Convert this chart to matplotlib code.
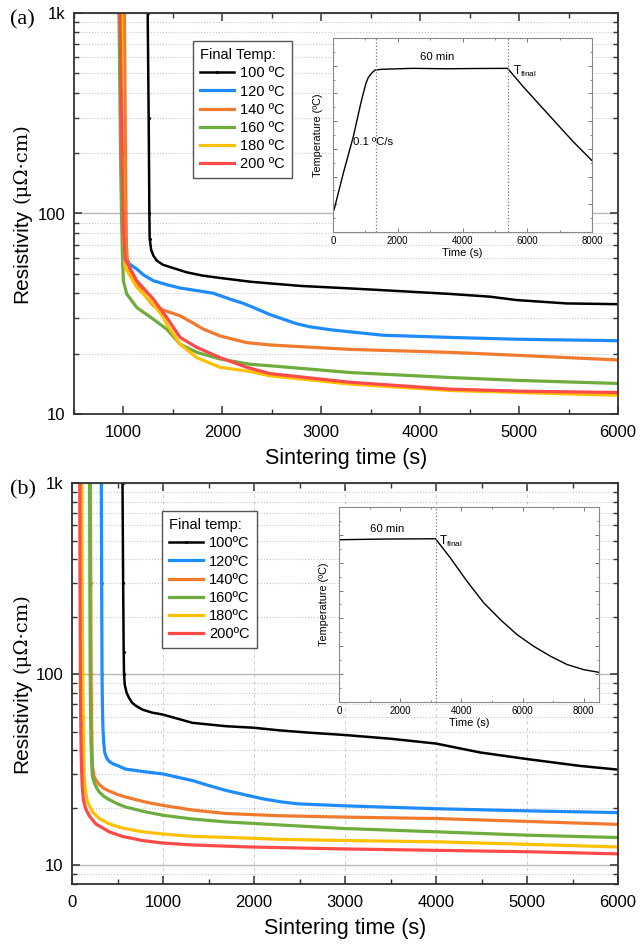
"""Resistivity vs. sintering time for several final temperatures, two heating profiles."""

import matplotlib

matplotlib.use("Agg")

import matplotlib.pyplot as plt  # noqa: E402
from matplotlib.ticker import MultipleLocator, NullFormatter  # noqa: E402

plt.rcParams["font.family"] = ["Liberation Sans", "DejaVu Sans"]
plt.rcParams["mathtext.fontset"] = "custom"
plt.rcParams["mathtext.rm"] = "Liberation Sans"

labels_a = ["100 ºC", "120 ºC", "140 ºC", "160 ºC", "180 ºC", "200 ºC"]
labels_b = ["100ºC", "120ºC", "140ºC", "160ºC", "180ºC", "200ºC"]
colors = ["#000000", "#1e8cff", "#f07a2e", "#6fac3e", "#ffc000", "#ff4a4a"]

# (a) ramp + 60 min hold + cooling: time (s), resistivity (µΩ·cm)
a100_t = [1240, 1245, 1255, 1262, 1265, 1280, 1302, 1336, 1400, 1500, 1640, 1800, 1977,
          2280, 2482, 2800, 3291, 3800, 4302, 4700, 4976, 5482, 6000]
a100_r = [2000, 1000, 300, 100, 75, 66, 61.7, 58.2, 55.5, 53.5, 50.9, 49, 47.7,
          45.7, 44.8, 43.5, 42.3, 41, 39.7, 38.5, 37, 35.6, 35.3]
a120_t = [960, 965, 985, 1000, 1010, 1016, 1060, 1134, 1200, 1302, 1450, 1572, 1750, 1909,
          2078, 2200, 2313, 2482, 2617, 2750, 2887, 3123, 3628, 4302, 4976, 6000]
a120_r = [2000, 1000, 200, 100, 75, 62, 56, 52.9, 49.5, 46.2, 44, 42.5, 41.2, 40,
          37.4, 35.8, 34, 31.3, 29.7, 28.2, 27.2, 26.2, 24.7, 24.1, 23.6, 23.2]
a140_t = [1005, 1010, 1020, 1026, 1030, 1040, 1080, 1134, 1200, 1302, 1400, 1572, 1700,
          1808, 1977, 2246, 2482, 3291, 4302, 5000, 6000]
a140_r = [2000, 1000, 200, 100, 70, 58, 50, 45, 40, 34.7, 33, 30.9, 28.5,
          26.5, 24.5, 22.7, 22.1, 21, 20.3, 19.6, 18.6]
a160_t = [950, 955, 970, 980, 990, 999, 1033, 1134, 1302, 1437, 1572, 1741, 1977, 2280,
          2482, 3291, 4302, 5000, 6000]
a160_r = [2000, 1000, 200, 100, 60, 46.2, 39.7, 34, 29.7, 26.5, 22.3, 20.3, 18.8, 17.7,
          17.4, 16.1, 15.2, 14.7, 14.2]
a180_t = [975, 980, 990, 998, 1008, 1016, 1134, 1302, 1400, 1437, 1471, 1572, 1741, 1977,
          2280, 2482, 3291, 4302, 5000, 6000]
a180_r = [2000, 1000, 200, 100, 70, 54, 42.9, 35.3, 30.5, 28, 26.5, 22.3, 19.1, 17.1,
          16.3, 15.5, 14.1, 13.1, 12.8, 12.4]
a200_t = [960, 965, 985, 995, 1005, 1016, 1134, 1302, 1437, 1572, 1741, 1977, 2246, 2482,
          3291, 4302, 5000, 6000]
a200_r = [2000, 1000, 200, 100, 75, 59.3, 46.2, 37.4, 30.3, 24.1, 21.5, 19.1, 17.1, 15.9,
          14.4, 13.3, 13.0, 12.8]

# (b) 60 min hold + cooling only
b100_t = [540, 555, 562, 568, 572, 580, 600, 628, 660, 700, 774, 880, 1001, 1323, 1689, 2000,
          2275, 2600, 3000, 3500, 4000, 4483, 5003, 5574, 6000]
b100_r = [2000, 1000, 300, 130, 100, 88, 80, 75, 71, 68.5, 65.3, 63, 61.5, 55.7, 53.5, 52.5,
          50.9, 49.5, 48.1, 46, 43.4, 39, 36, 33.2, 31.7]
b120_t = [318, 322, 326, 330, 334, 340, 348, 360, 380, 408, 450, 500, 591, 800, 1001, 1150,
          1323, 1500, 1689, 1938, 2100, 2300, 2484, 3000, 4000, 5003, 6000]
b120_r = [2000, 1000, 300, 100, 70, 52, 44, 39, 36.5, 35, 34, 33.3, 31.9, 30.9, 30.1, 29,
          27.8, 26.2, 24.7, 23.2, 22.3, 21.5, 21, 20.5, 19.8, 19.3, 18.9]
b140_t = [200, 203, 206, 210, 214, 220, 226, 240, 260, 299, 350, 400, 500, 591, 800, 1001,
          1323, 1689, 2275, 3000, 4000, 5000, 6000]
b140_r = [2000, 1000, 300, 100, 60, 42, 33, 29.5, 28, 26.5, 25.3, 24.6, 23.5, 22.8, 21.5, 20.6,
          19.5, 18.7, 18.2, 17.9, 17.6, 17, 16.4]
b160_t = [190, 193, 196, 200, 204, 210, 218, 226, 245, 270, 299, 350, 400, 500, 591, 800,
          1001, 1323, 1689, 2275, 3000, 4000, 5003, 6000]
b160_r = [2000, 1000, 300, 100, 60, 42, 33, 29, 27, 25.5, 24.2, 23, 22.2, 21, 20.2, 19.1,
          18.3, 17.5, 16.9, 16.3, 15.6, 15.0, 14.4, 14.0]
b180_t = [105, 108, 112, 118, 122, 127, 134, 145, 170, 226, 300, 408, 550, 774, 1000, 1323,
          1938, 2275, 3000, 4000, 5000, 6000]
b180_r = [2000, 1000, 300, 100, 60, 42, 30, 25, 21.5, 19, 17.6, 16.5, 15.7, 15, 14.6, 14.2,
          13.9, 13.7, 13.5, 13.3, 12.9, 12.5]
b200_t = [82, 85, 88, 92, 96, 100, 105, 112, 125, 150, 189, 260, 408, 550, 774, 1000, 1323,
          1938, 2275, 3000, 4000, 5000, 6000]
b200_r = [2000, 1000, 300, 100, 55, 40, 32, 26, 22, 19.8, 18.2, 16.5, 15.0, 14.2, 13.5, 13.1,
          12.8, 12.5, 12.4, 12.2, 12.0, 11.8, 11.5]

# heating profiles shown in the insets: time (s), temperature (ºC)
prof_a_t = [0, 31, 318, 627, 850, 936, 1020, 1090, 1200, 1296, 1500, 1759, 2469, 3500, 4500,
            5392, 5874, 6389, 6903, 7418, 8000]
prof_a_T = [35, 35.9, 62.4, 88.8, 112, 120.1, 127.5, 131.5, 134.8, 136.9, 137.4, 137.6, 138.1,
            137.8, 138.0, 138.1, 124.9, 111.6, 98.4, 85.2, 71.5]
prof_b_t = [0, 1500, 3155, 3635, 4181, 4727, 5273, 5819, 6365, 6910, 7456, 8002, 8500]
prof_b_T = [136.5, 137.0, 137.2, 123.6, 106.8, 91.3, 79.2, 68.4, 60.0, 52.9, 46.9, 43.2, 41.3]
hold_a = [1317, 5392]
hold_b = [3155]

W, H = 640, 946
fig = plt.figure(figsize=(W / 100, H / 100), dpi=100)
ax_a = fig.add_axes([74 / W, 1 - 414 / H, 544 / W, 401 / H])
ax_b = fig.add_axes([72 / W, 1 - 884 / H, 546 / W, 401 / H])
in_a = fig.add_axes([333 / W, 1 - 232 / H, 259 / W, 194 / H])
in_b = fig.add_axes([339 / W, 1 - 702 / H, 260 / W, 195 / H])


def style_main(ax, ylow, xlow, vgrid):
    ax.set_yscale("log")
    ax.set_ylim(ylow, 1000)
    ax.set_xlim(xlow, 6000)
    ax.set_yticks([10, 100, 1000])
    ax.set_yticklabels(["10", "100", "1k"])
    ax.yaxis.set_minor_formatter(NullFormatter())
    ax.xaxis.set_major_locator(MultipleLocator(1000))
    ax.xaxis.set_minor_locator(MultipleLocator(500))
    ax.tick_params(which="both", direction="in", top=True, right=True, colors="#333333",
                   labelcolor="black", labelsize=12)
    ax.tick_params(axis="x", pad=8)
    ax.tick_params(axis="y", pad=6)
    ax.tick_params(which="major", length=6, width=1.1)
    ax.tick_params(which="minor", length=3.5, width=1.0)
    for sp in ax.spines.values():
        sp.set_linewidth(1.3)
        sp.set_color("#333333")
    ax.set_axisbelow(True)
    ax.yaxis.grid(True, which="minor", ls=":", color="#c8c8c8", lw=0.8)
    ax.yaxis.grid(True, which="major", ls="-", color="#b8b8b8", lw=1.0)
    if vgrid:
        ax.xaxis.grid(True, which="major", ls=(0, (3, 3)), color="#d0d0d0", lw=0.8)
    ax.set_xlabel("Sintering time (s)", fontsize=15.5, labelpad=6)


def style_inset(ax, xmax):
    ax.set_xlim(0, xmax)
    ax.set_ylim(20, 160)
    ax.xaxis.set_major_locator(MultipleLocator(2000))
    ax.xaxis.set_minor_locator(MultipleLocator(1000))
    ax.yaxis.set_major_locator(MultipleLocator(20))
    ax.yaxis.set_minor_locator(MultipleLocator(10))
    ax.tick_params(which="both", direction="in", top=True, right=True, labelsize=7,
                   colors="#777777", labelcolor="black", pad=3)
    ax.tick_params(which="major", length=3, width=0.7)
    ax.tick_params(which="minor", length=1.5, width=0.6)
    ax.tick_params(axis="y", labelleft=False)
    for sp in ax.spines.values():
        sp.set_linewidth(0.8)
        sp.set_color("#8a8a8a")
    ax.set_xlabel("Time (s)", fontsize=8, labelpad=1)
    ax.set_ylabel("Temperature (ºC)", fontsize=7.8, labelpad=4)


def resistivity_label(ax, x_base):
    """Y label with a sans-serif word and a serif unit, centred on the axes."""
    renderer = fig.canvas.get_renderer()
    t1 = fig.text(x_base / W, 0, "Resistivity", fontsize=15, rotation=90,
                  rotation_mode="anchor", ha="left", va="baseline")
    t2 = fig.text(x_base / W, 0, "(μΩ·cm)", fontsize=14, family="DejaVu Serif",
                  rotation=90, rotation_mode="anchor", ha="left", va="baseline")
    h1 = t1.get_window_extent(renderer).height
    h2 = t2.get_window_extent(renderer).height
    gap = 6
    box = ax.get_position()
    yc = (box.y0 + box.y1) / 2 * H
    y0 = yc - (h1 + gap + h2) / 2
    t1.set_y(y0 / H)
    t2.set_y((y0 + h1 + gap) / H)


series_a = [(a100_t, a100_r), (a120_t, a120_r), (a140_t, a140_r),
            (a160_t, a160_r), (a180_t, a180_r), (a200_t, a200_r)]
series_b = [(b100_t, b100_r), (b120_t, b120_r), (b140_t, b140_r),
            (b160_t, b160_r), (b180_t, b180_r), (b200_t, b200_r)]

for ax, series, names in [(ax_a, series_a, labels_a), (ax_b, series_b, labels_b)]:
    for (t, r), c, name in zip(series, colors, names):
        lw = 1.8 if c == "#000000" else 2.3
        ax.plot(t, r, color=c, lw=lw, marker=".", ms=2.5, markevery=slice(0, 5),
                label=name, solid_joinstyle="round")

style_main(ax_a, 10, 500, vgrid=False)
style_main(ax_b, 8, 0, vgrid=True)

for ax, title, x0 in [(ax_a, "Final Temp:", 0.219), (ax_b, "Final temp:", 0.165)]:
    leg = ax.legend(title=title, loc="upper left", bbox_to_anchor=(x0, 0.93), borderaxespad=0,
                    fontsize=10.5, title_fontsize=10.5, frameon=True, fancybox=False,
                    framealpha=1, edgecolor="#555555", handlelength=2.3, handletextpad=0.4,
                    labelspacing=0.28, borderpad=0.5, alignment="left")
    leg.get_frame().set_linewidth(1.0)

# inset profiles
in_a.plot(prof_a_t, prof_a_T, color="black", lw=1.0)
for x in hold_a:
    in_a.axvline(x, color="#777777", ls=":", lw=0.9)
style_inset(in_a, 8000)
in_a.text(3231, 146, "60 min", fontsize=8.2, ha="center", va="center")
in_a.text(5560, 136, r"T$_{\mathrm{final}}$", fontsize=8.5, ha="left", va="center")
in_a.text(620, 85, "0.1 ºC/s", fontsize=8.2, ha="left", va="center")

in_b.plot(prof_b_t, prof_b_T, color="black", lw=1.0)
for x in hold_b:
    in_b.axvline(x, color="#777777", ls=":", lw=0.9)
style_inset(in_b, 8500)
in_b.text(1563, 144, "60 min", fontsize=8.2, ha="center", va="center")
in_b.text(3260, 135, r"T$_{\mathrm{final}}$", fontsize=8.5, ha="left", va="center")

resistivity_label(ax_a, 27)
resistivity_label(ax_b, 27)

fig.text(10 / W, 1 - 20 / H, "(a)", family="Liberation Serif", fontsize=16, va="center")
fig.text(10 / W, 1 - 490 / H, "(b)", family="Liberation Serif", fontsize=16, va="center")

fig.savefig("out.png", dpi=100)
plt.close(fig)
